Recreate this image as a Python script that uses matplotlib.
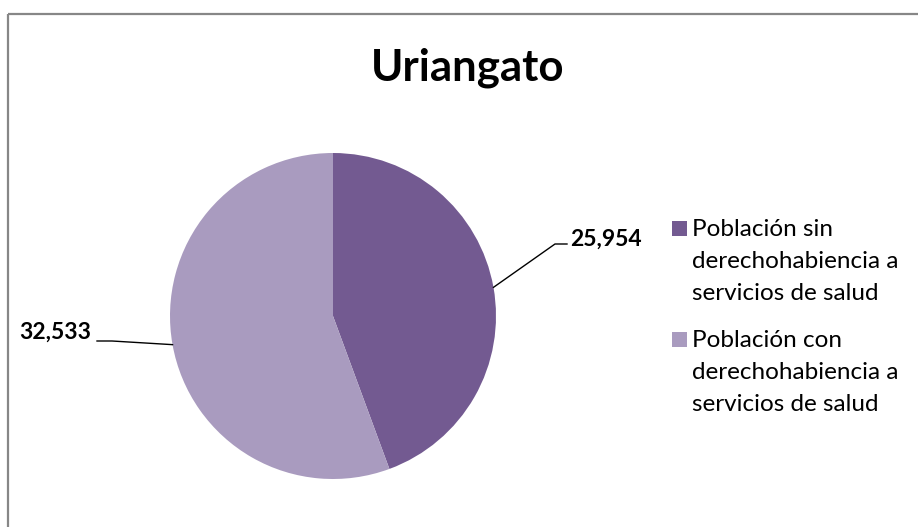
import matplotlib
matplotlib.use("Agg")
import matplotlib.pyplot as plt
import numpy as np
from matplotlib.patches import Rectangle
from matplotlib.lines import Line2D

# ---- data ----
title = "Uriangato"
categories = ["Población sin\nderechohabiencia a\nservicios de salud",
              "Población con\nderechohabiencia a\nservicios de salud"]
values = [25954, 32533]
value_labels = ["25,954", "32,533"]
colors = ["#735a91", "#a99bbf"]

# ---- layout (pixel space, image coordinates: y downwards) ----
W, H = 918, 527
FONT = "Lato"

fig = plt.figure(figsize=(W / 100, H / 100), dpi=100)
ax = fig.add_axes([0, 0, 1, 1])


def Y(y):
    return H - y


cx, cy, r = 333, Y(316), 163
wedges, _ = ax.pie(values, colors=colors, startangle=90, counterclock=False,
                   center=(cx, cy), radius=r,
                   wedgeprops=dict(linewidth=0))
ax.set_xlim(0, W)
ax.set_ylim(0, H)
ax.set_aspect("equal")
ax.axis("off")

# frame (only top and left edges visible in the crop)
border = "#878787"
ax.add_line(Line2D([8, W], [Y(14), Y(14)], color=border, lw=1.6, solid_capstyle="butt"))
ax.add_line(Line2D([8, 8], [Y(14), 0], color=border, lw=1.6, solid_capstyle="butt"))

# title
ax.text(468, Y(80), title, fontsize=31.5, fontweight="bold", family=FONT,
        ha="center", va="baseline", color="black")

# data labels with leader lines
elbows = [(555, 244), (112, 341)]
ends = [(567, 244), (97, 341)]
for w, lab, elb, end in zip(wedges, value_labels, elbows, ends):
    ang = np.deg2rad((w.theta1 + w.theta2) / 2)
    px, py = cx + r * np.cos(ang), cy + r * np.sin(ang)
    ax.add_line(Line2D([px, elb[0], end[0]], [py, Y(elb[1]), Y(end[1])],
                       color="black", lw=1.0))
    if end[0] > elb[0]:
        ax.text(end[0] + 3, Y(end[1] + 2), lab, ha="left", va="baseline",
                fontsize=16.5, fontweight="bold", family=FONT)
    else:
        ax.text(end[0] - 6, Y(end[1] - 2), lab, ha="right", va="baseline",
                fontsize=16.5, fontweight="bold", family=FONT)

# legend (manual)
leg_x, sq = 672, 15
first_baselines = [236, 347]
line_step = 32
for w, cat, b0 in zip(wedges, categories, first_baselines):
    ax.add_patch(Rectangle((leg_x, Y(b0)), sq, sq, facecolor=w.get_facecolor(),
                           edgecolor="none"))
    for k, line in enumerate(cat.split("\n")):
        ax.text(leg_x + 20, Y(b0 + k * line_step), line, ha="left", va="baseline",
                fontsize=17.5, family=FONT, color="black")

fig.savefig("out.png", dpi=100)
